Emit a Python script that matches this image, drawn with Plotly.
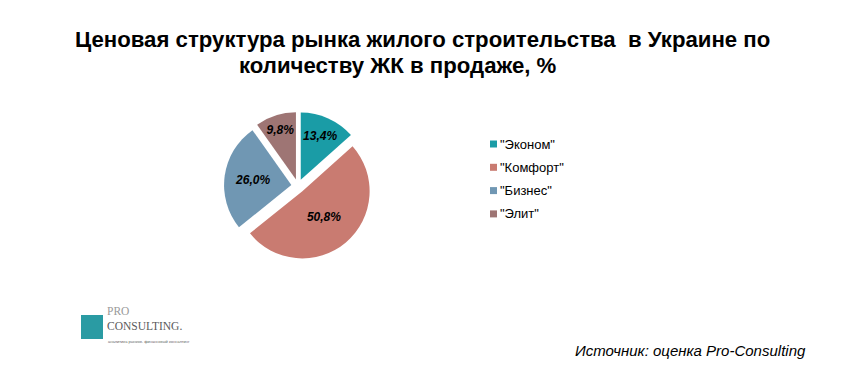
import plotly.graph_objects as go

categories = ['"Эконом"', '"Комфорт"', '"Бизнес"', '"Элит"']
values = [13.4, 50.8, 26.0, 9.8]
value_labels = ["13,4%", "50,8%", "26,0%", "9,8%"]
colors = ["#1a9ca6", "#c97b71", "#7097b3", "#9e7574"]

W, H = 846, 372
cx, cy, half = 290, 178, 74

fig = go.Figure()
fig.add_trace(go.Pie(
    labels=categories,
    values=values,
    text=value_labels,
    textinfo="text",
    textposition="inside",
    insidetextorientation="horizontal",
    textfont=dict(family="Liberation Sans, Arial", size=12, color="black"),
    texttemplate="<b><i>%{text}</i></b>",
    sort=False,
    direction="clockwise",
    rotation=0,
    pull=[0.1, 0.1, 0.1, 0.1],
    marker=dict(colors=colors, line=dict(width=0)),
    domain=dict(x=[(cx - half) / W, (cx + half) / W], y=[(H - cy - half) / H, (H - cy + half) / H]),
    hoverinfo="skip",
    showlegend=False,
))

annotations = [
    dict(text="<b>Ценовая структура рынка жилого строительства  в Украине по</b>",
         x=414 / W, y=(H - 31) / H, xref="paper", yref="paper", showarrow=False,
         xanchor="center", yanchor="middle",
         font=dict(family="Liberation Sans, Arial", size=22.2, color="black")),
    dict(text="<b>количеству ЖК в продаже, %</b>",
         x=390 / W, y=(H - 58) / H, xref="paper", yref="paper", showarrow=False,
         xanchor="center", yanchor="middle",
         font=dict(family="Liberation Sans, Arial", size=22.2, color="black")),
    dict(text="<i>Источник: оценка Pro-Consulting</i>",
         x=800 / W, y=(H - 342) / H, xref="paper", yref="paper", showarrow=False,
         xanchor="right", yanchor="middle",
         font=dict(family="Liberation Sans, Arial", size=15, color="black")),
    dict(text='<span style="color:#9a9a9a">PRO</span><br>CONSULTING.',
         x=97 / W, y=(H - 310) / H, xref="paper", yref="paper", showarrow=False,
         xanchor="left", yanchor="middle", align="left",
         font=dict(family="Liberation Serif, serif", size=11.5, color="#5a5a5a")),
    dict(text="аналитика рынков. финансовый консалтинг", x=98 / W, y=(H - 333) / H,
         xref="paper", yref="paper", showarrow=False, xanchor="left", yanchor="middle",
         font=dict(family="Liberation Sans, Arial", size=4, color="#666666")),
]
shapes = [
    dict(type="rect", xref="paper", yref="paper",
         x0=73 / W, x1=95 / W, y0=(H - 331) / H, y1=(H - 307) / H,
         fillcolor="#2a9ba3", line=dict(width=0)),
]

# legend built from categories and colors
legend_y0, legend_dy = 136, 23.3
for i, (cat, col) in enumerate(zip(categories, colors)):
    yc = legend_y0 + i * legend_dy
    shapes.append(dict(type="rect", xref="paper", yref="paper",
                       x0=482 / W, x1=489 / W, y0=(H - yc - 3.5) / H, y1=(H - yc + 3.5) / H,
                       fillcolor=col, line=dict(width=0)))
    annotations.append(dict(text=cat, x=490 / W, y=(H - yc) / H, xref="paper", yref="paper",
                            showarrow=False, xanchor="left", yanchor="middle",
                            font=dict(family="Liberation Sans, Arial", size=13, color="black")))

fig.update_layout(
    width=W, height=H,
    margin=dict(l=0, r=0, t=0, b=0),
    paper_bgcolor="white",
    plot_bgcolor="white",
    showlegend=False,
    annotations=annotations,
    shapes=shapes,
)

fig.write_html("out.html")
